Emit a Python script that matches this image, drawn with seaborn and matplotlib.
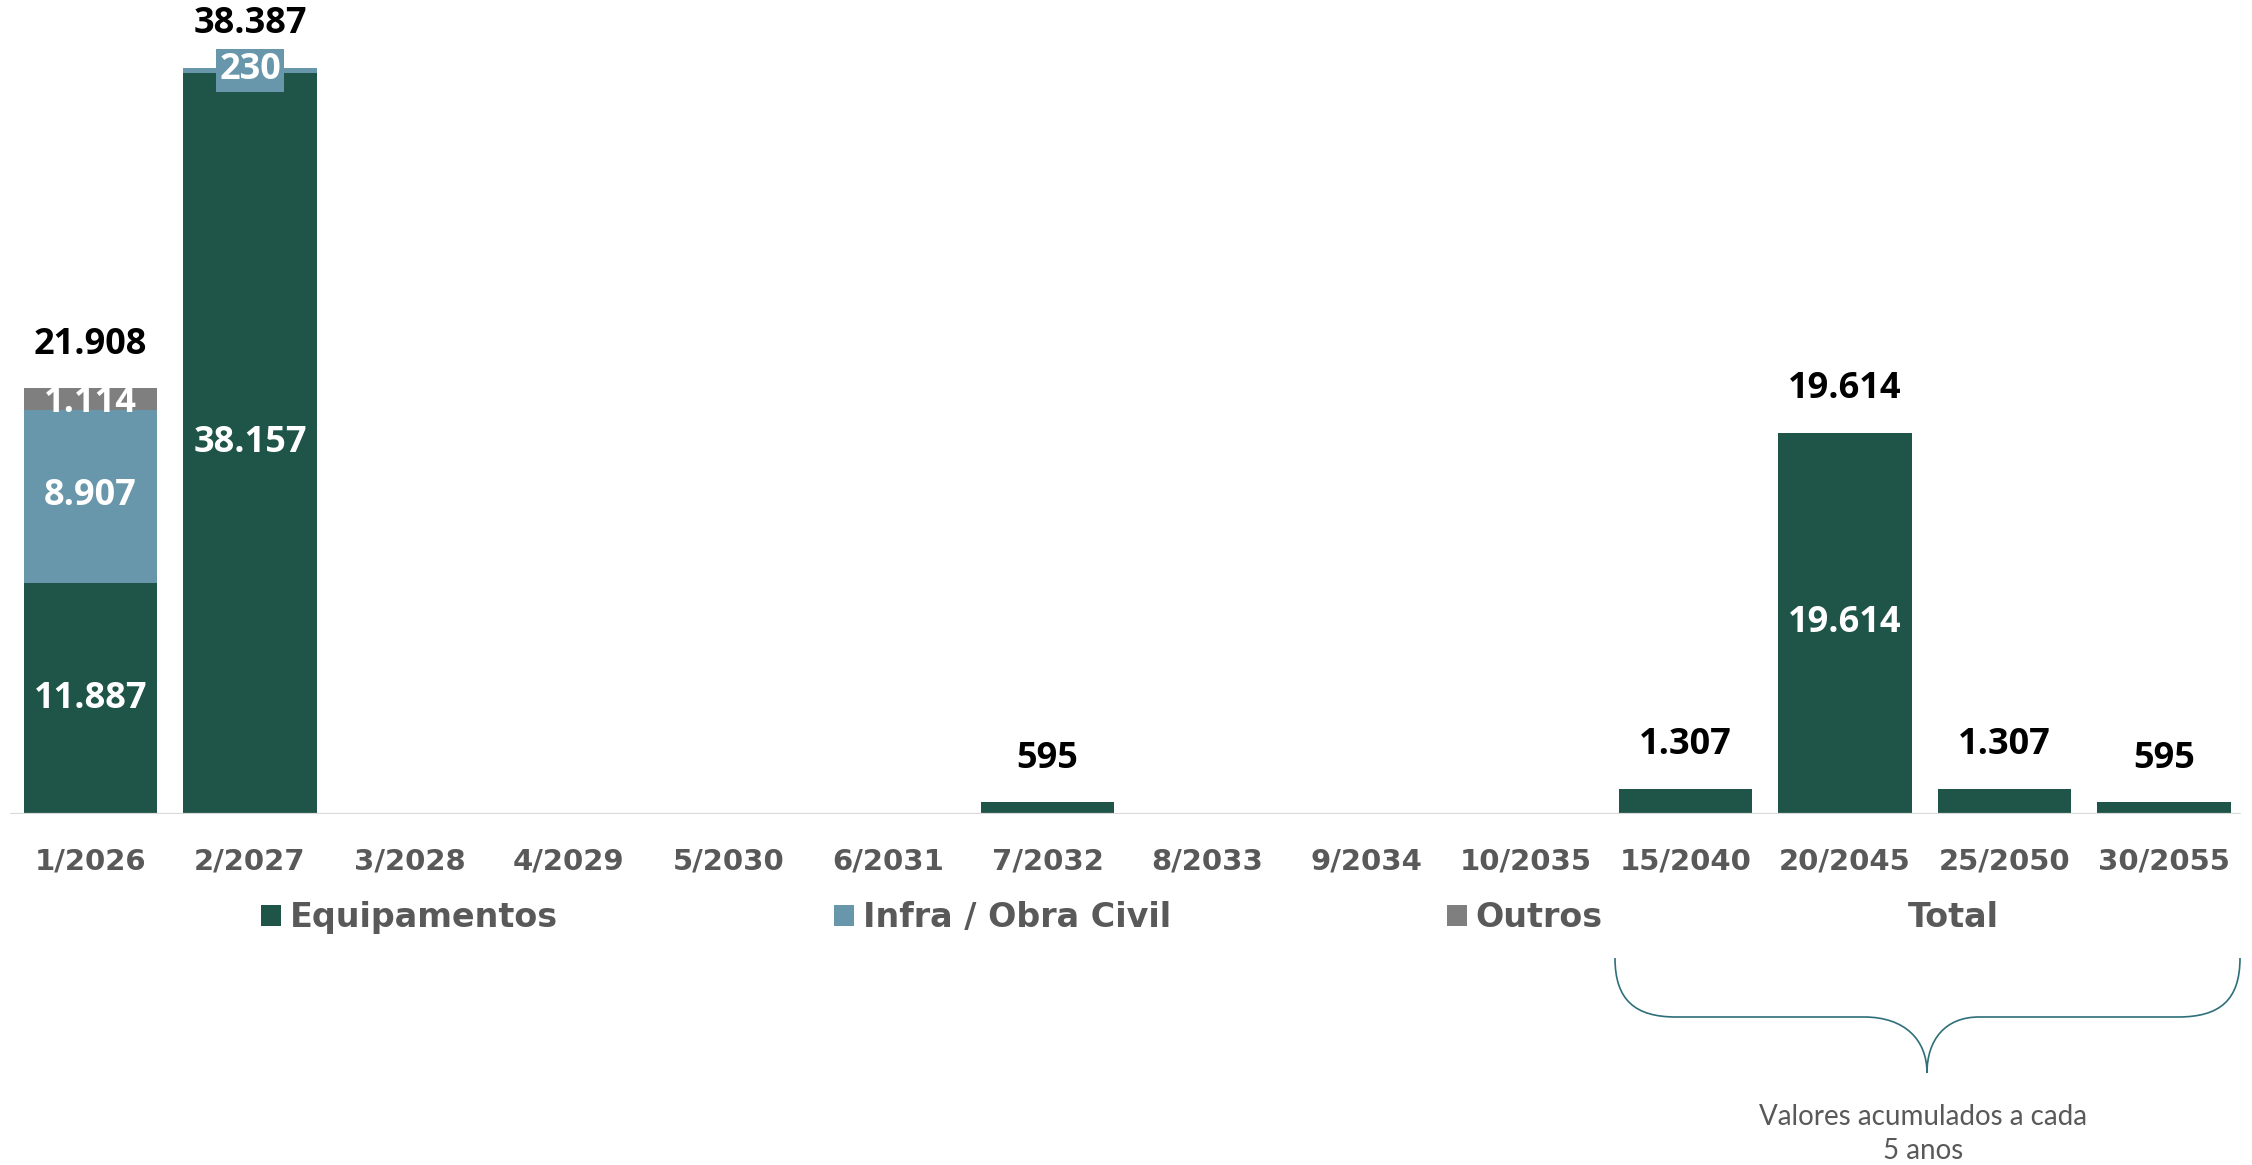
import matplotlib as mpl
mpl.use('Agg')
import pandas as pd
import seaborn as sns
import matplotlib.pyplot as plt
from matplotlib.path import Path
from matplotlib.patches import PathPatch, Patch

sns.set_theme(style='white')
plt.rcParams['font.family'] = ['DejaVu Sans']

periods = ['1/2026', '2/2027', '3/2028', '4/2029', '5/2030', '6/2031', '7/2032',
           '8/2033', '9/2034', '10/2035', '15/2040', '20/2045', '25/2050', '30/2055']
equipamentos = [11887, 38157, 0, 0, 0, 0, 595, 0, 0, 0, 1307, 19614, 1307, 595]
infra_obra = [8907, 230, 0, 0, 0, 0, 0, 0, 0, 0, 0, 0, 0, 0]
outros = [1114, 0, 0, 0, 0, 0, 0, 0, 0, 0, 0, 0, 0, 0]
legend_labels = ['Equipamentos', 'Infra / Obra Civil', 'Outros', 'Total']
brace_note = 'Valores acumulados a cada\n5 anos'

green = '#1f5449'
blue = '#6897ab'
grey = '#7f7f7f'
text_grey = '#595959'
W, H = 2252, 1165


def fmt(v):
    return '{:,}'.format(v).replace(',', '.')


def fx(px):
    return px / W


def fy(py):
    return 1 - py / H


df = pd.DataFrame({'period': periods, 'equip': equipamentos,
                   'infra': infra_obra, 'outros': outros})
df['equip_infra'] = df['equip'] + df['infra']
df['total'] = df['equip_infra'] + df['outros']

fig = plt.figure(figsize=(W / 100, H / 100), dpi=100)
ax = fig.add_axes([0, fy(814), 1, 814 / H])

# stacked look by layering cumulative sums
for col, c in [('total', grey), ('equip_infra', blue), ('equip', green)]:
    sns.barplot(data=df, x='period', y=col, order=periods, color=c,
                width=0.835, linewidth=0, saturation=1, errorbar=None, ax=ax)

ax.set_xlim(-90.5 / 159.5, (W - 90.5) / 159.5)
ax.set_ylim(0, 41890)
sns.despine(ax=ax, left=True, bottom=True)
ax.axhline(0, xmin=fx(11), xmax=fx(2240), color='#d9d9d9', lw=1.6, zorder=5)
ax.set_yticks([])
ax.set_xlabel('')
ax.set_ylabel('')
ax.tick_params(axis='x', length=0, pad=24, labelsize=21, labelcolor=text_grey)
for lbl in ax.get_xticklabels():
    lbl.set_fontweight('bold')

lab_kw = dict(ha='center', va='center', color='white', fontsize=26,
              fontweight='bold', family='Open Sans', zorder=6,
              textcoords='offset points')
for i, row in df.iterrows():
    if row['equip'] >= 5000:
        ax.annotate(fmt(row['equip']), (i, row['equip'] / 2), xytext=(0, 0),
                    **lab_kw)
    if row['infra'] > 0:
        box = None
        if row['infra'] < 1000:
            box = dict(boxstyle='square,pad=0.1', fc=blue, ec='none')
        ax.annotate(fmt(row['infra']), (i, row['equip'] + row['infra'] / 2),
                    xytext=(0, 0), bbox=box, **lab_kw)
    if row['outros'] > 0:
        ax.annotate(fmt(row['outros']),
                    (i, row['equip_infra'] + row['outros'] / 2),
                    xytext=(0, -3), **lab_kw)
    if row['total'] > 0:
        ax.annotate(fmt(row['total']), (i, row['total']), xytext=(0, 31.5),
                    textcoords='offset points', ha='center', va='center',
                    fontsize=26, fontweight='bold', family='Open Sans',
                    color='black')

handles = [Patch(fc=green, ec='none'), Patch(fc=blue, ec='none'),
           Patch(fc=grey, ec='none'), Patch(fc='none', ec='none')]
fig.legend(handles, legend_labels, loc='center', ncol=4, frameon=False,
           bbox_to_anchor=(fx(1130), fy(918)),
           prop={'size': 24, 'weight': 'bold'}, labelcolor=text_grey,
           handlelength=0.6, handleheight=0.6, handletextpad=0.25,
           columnspacing=8.3)

# curly brace under the 5-year accumulated bars
pts = [(1615, 958), (1615, 1000), (1635, 1017), (1676, 1017),
       (1864, 1017), (1905, 1017), (1927, 1040), (1927, 1073),
       (1927, 1040), (1945, 1017), (1979, 1017),
       (2178, 1017), (2220, 1017), (2240, 1000), (2240, 958)]
codes = [Path.MOVETO, Path.CURVE4, Path.CURVE4, Path.CURVE4,
         Path.LINETO, Path.CURVE4, Path.CURVE4, Path.CURVE4,
         Path.CURVE4, Path.CURVE4, Path.CURVE4,
         Path.LINETO, Path.CURVE4, Path.CURVE4, Path.CURVE4]
brace = Path([(fx(x), fy(y)) for x, y in pts], codes)
fig.add_artist(PathPatch(brace, fc='none', ec='#2e6f79', lw=1.2,
                         transform=fig.transFigure))

fig.text(fx(1923), fy(1134), brace_note, ha='center', va='center',
         fontsize=20, color=text_grey, family='Lato', linespacing=1.4)

fig.savefig('out.png', dpi=100)
plt.close()
